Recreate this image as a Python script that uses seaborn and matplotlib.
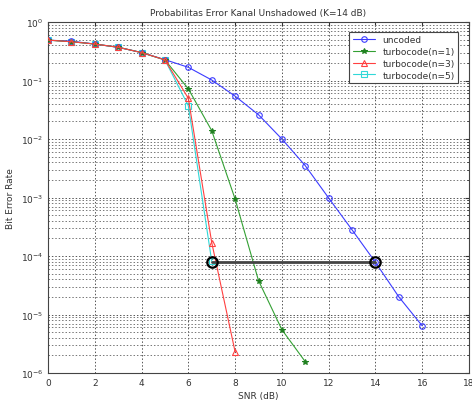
import numpy as np
import pandas as pd
import matplotlib
matplotlib.use("Agg")
import matplotlib.pyplot as plt
import seaborn as sns
from matplotlib.ticker import LogLocator, NullFormatter, FixedLocator

sns.set_style("white")
plt.rcParams['font.family'] = ['DejaVu Sans']

snr_uncoded = [0, 1, 2, 3, 4, 5, 6, 7, 8, 9, 10, 11, 12, 13, 14, 15, 16]
ber_uncoded = [0.49, 0.47, 0.42, 0.37, 0.30, 0.227, 0.168, 0.102, 0.054, 0.026,
               0.010, 0.0035, 9.8e-4, 2.8e-4, 7.8e-5, 2.0e-5, 6.4e-6]

snr_n1 = [0, 1, 2, 3, 4, 5, 6, 7, 8, 9, 10, 11]
ber_n1 = [0.49, 0.46, 0.42, 0.37, 0.30, 0.225, 0.072, 0.0139, 9.4e-4, 3.8e-5, 5.5e-6, 1.56e-6]

snr_n3 = [0, 1, 2, 3, 4, 5, 6, 7, 8]
ber_n3 = [0.49, 0.46, 0.42, 0.37, 0.30, 0.225, 0.0496, 1.7e-4, 2.3e-6]

snr_n5 = [0, 1, 2, 3, 4, 5, 6, 7]
ber_n5 = [0.49, 0.46, 0.42, 0.37, 0.30, 0.225, 0.037, 8.1e-5]

snr_ref = [7, 14]
ber_ref = [7.9e-5, 7.9e-5]

labels = ["uncoded", "turbocode(n=1)", "turbocode(n=3)", "turbocode(n=5)"]
xticks = [0, 2, 4, 6, 8, 10, 12, 14, 16, 18]

fig = plt.figure(figsize=(4.72, 4.06), dpi=100)
ax = fig.add_axes([48 / 472, 32 / 406, 421 / 472, 351 / 406])

tc = '#333333'
sns.lineplot(x=snr_ref, y=ber_ref, ax=ax, color='#444444', lw=2.0, marker='o',
             markersize=7.5, markerfacecolor='none', markeredgecolor='black',
             markeredgewidth=1.6, zorder=5, legend=False)
sns.lineplot(x=snr_uncoded, y=ber_uncoded, ax=ax, color='#3b3bff', lw=0.8, marker='o',
             markersize=4, markerfacecolor='none', markeredgecolor='#3b3bff',
             markeredgewidth=0.8, label=labels[0], zorder=4)
sns.lineplot(x=snr_n1, y=ber_n1, ax=ax, color='#33a033', lw=0.8, marker='*',
             markersize=4, markeredgecolor='#208020', markerfacecolor='#208020',
             label=labels[1], zorder=4)
sns.lineplot(x=snr_n3, y=ber_n3, ax=ax, color='#ff4040', lw=0.8, marker='^',
             markersize=4, markerfacecolor='none', markeredgecolor='#ff4040',
             markeredgewidth=0.8, label=labels[2], zorder=4)
sns.lineplot(x=snr_n5, y=ber_n5, ax=ax, color='#30d8d8', lw=0.8, marker='s',
             markersize=4, markerfacecolor='none', markeredgecolor='#30d8d8',
             markeredgewidth=0.8, label=labels[3], zorder=3)

ax.set_yscale('log')
ax.set_xlim(0, 18)
ax.set_ylim(1e-6, 1)
ax.xaxis.set_major_locator(FixedLocator(xticks))
ax.set_xticklabels([str(v) for v in xticks])
ax.yaxis.set_major_locator(LogLocator(base=10, numticks=10))
ax.yaxis.set_minor_locator(LogLocator(base=10, subs=np.arange(2, 10), numticks=20))
ax.yaxis.set_minor_formatter(NullFormatter())

ax.grid(True, which='major', axis='x', linestyle=(0, (1.5, 2)), color='#555555', lw=0.7)
ax.grid(True, which='major', axis='y', linestyle=(0, (1.5, 2)), color='#555555', lw=0.7)
ax.grid(True, which='minor', axis='y', linestyle=(0, (1.5, 2)), color='#777777', lw=0.7)

ax.tick_params(axis='both', which='both', direction='in', labelsize=6.5, colors=tc,
               top=True, right=True, length=3)
ax.tick_params(axis='y', which='minor', length=1.5)
for s in ax.spines.values():
    s.set_color('#444444')
    s.set_linewidth(0.8)

ax.set_xlabel("SNR (dB)", fontsize=6.5, color=tc, labelpad=3)
ax.set_ylabel("Bit Error Rate", fontsize=6.5, color=tc, labelpad=4)
ax.set_title("Probabilitas Error Kanal Unshadowed (K=14 dB)", fontsize=6.5, color=tc, pad=5)

leg = ax.legend(loc='upper right', fontsize=6.5, frameon=True, fancybox=False,
                framealpha=1, edgecolor='#444444', handlelength=2.5,
                borderpad=0.4, labelspacing=0.3, bbox_to_anchor=(0.985, 0.985))
for t in leg.get_texts():
    t.set_color(tc)
leg.get_frame().set_linewidth(0.8)

fig.savefig("out.png", dpi=100)
